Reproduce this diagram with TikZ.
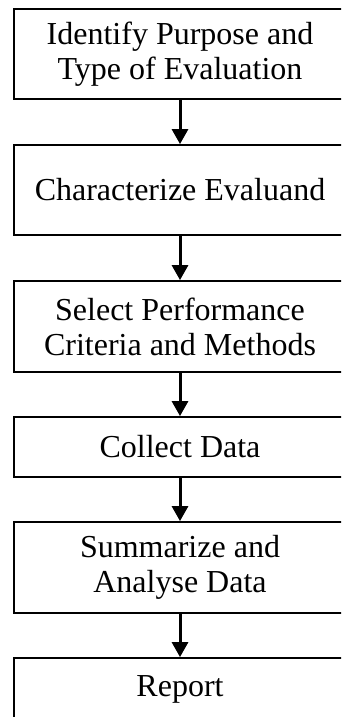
\documentclass[tikz,border=0pt]{standalone}
\usepackage{fontspec}
\setmainfont{Liberation Serif}
\usetikzlibrary{arrows.meta}
\begin{document}
\begin{tikzpicture}[x=1pt,y=-1pt,
  stepbox/.style={draw=black, line width=1.8pt, minimum width=332pt, inner sep=0pt,
    align=center, font=\fontsize{32}{35}\selectfont},
  flowarrow/.style={line width=3pt, -{Triangle[length=15pt,width=16pt]}}]
\useasboundingbox (0,0) rectangle (341,717);
\clip (0,0) rectangle (341,717);
\node[stepbox, minimum height=90pt] (s1) at (180,54) {Identify Purpose and\\Type of Evaluation};
\node[stepbox, minimum height=90pt] (s2) at (180,190) {Characterize Evaluand};
\node[stepbox, minimum height=91pt] (s3) at (180,326.5) {Select Performance\\Criteria and Methods};
\node[stepbox, minimum height=60pt] (s4) at (180,447) {Collect Data};
\node[stepbox, minimum height=91pt] (s5) at (180,567.5) {Summarize and\\Analyse Data};
\node[stepbox, minimum height=62pt] (s6) at (180,689) {Report};
\draw[flowarrow] (s1.south) -- (s2.north);
\draw[flowarrow] (s2.south) -- (s3.north);
\draw[flowarrow] (s3.south) -- (s4.north);
\draw[flowarrow] (s4.south) -- (s5.north);
\draw[flowarrow] (s5.south) -- (s6.north);
\end{tikzpicture}
\end{document}
